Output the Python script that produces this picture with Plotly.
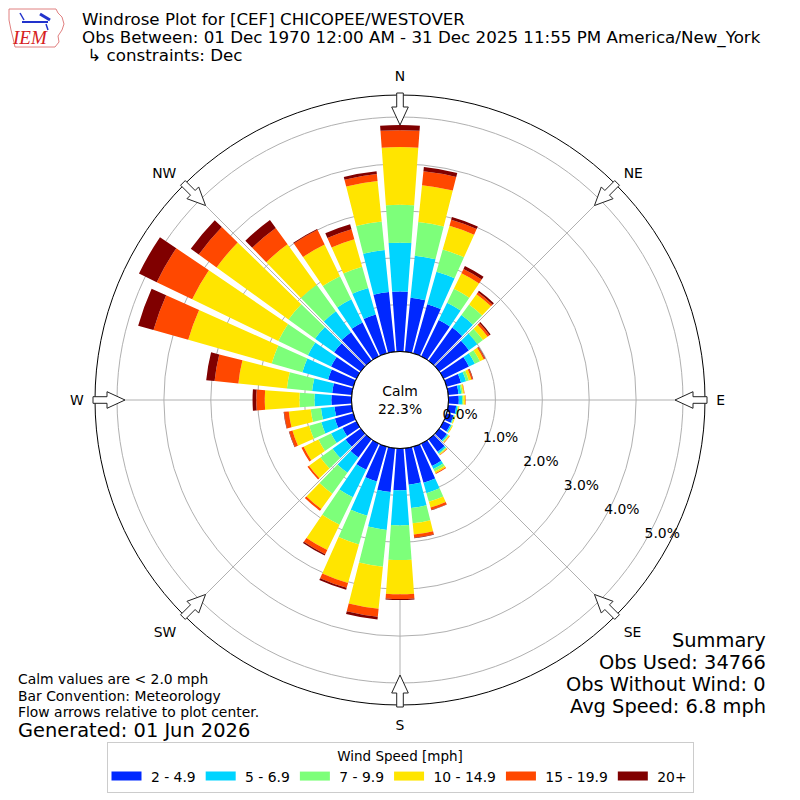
import math
import plotly.graph_objects as go

# wind direction bins (degrees, meteorological convention)
directions = list(range(0, 360, 10))
compass_vals = [0, 45, 90, 135, 180, 225, 270, 315]
compass_text = ["N", "NE", "E", "SE", "S", "SW", "W", "NW"]

speed_labels = ["2 - 4.9", "5 - 6.9", "7 - 9.9", "10 - 14.9", "15 - 19.9", "20+"]
speed_colors = ["#0028ff", "#00d4ff", "#7dff7a", "#ffe500", "#ff4800", "#800000"]

# percent of observations for each speed bin, per direction (0..350 by 10)
pct_2_5 = [1.28, 1.16, 1.09, 0.86, 0.87, 0.78, 0.60, 0.32, 0.22, 0.22, 0.17, 0.15,
           0.16, 0.20, 0.33, 0.53, 0.80, 0.78, 0.89, 0.94, 0.77, 0.62, 0.48, 0.40,
           0.33, 0.41, 0.37, 0.43, 0.42, 0.56, 0.60, 0.70, 0.75, 0.80, 0.86, 1.28]
pct_5_7 = [1.04, 0.90, 0.72, 0.41, 0.33, 0.22, 0.14, 0.11, 0.06, 0.07, 0.03, 0.02,
           0.03, 0.03, 0.04, 0.07, 0.23, 0.50, 0.75, 0.81, 0.76, 0.65, 0.40, 0.34,
           0.27, 0.30, 0.29, 0.36, 0.43, 0.57, 0.55, 0.50, 0.55, 0.55, 0.59, 0.90]
pct_7_10 = [0.81, 0.72, 0.49, 0.33, 0.28, 0.15, 0.12, 0.06, 0.03, 0.03, 0.02, 0.01,
            0.01, 0.02, 0.02, 0.06, 0.19, 0.33, 0.74, 0.79, 0.64, 0.65, 0.55, 0.32,
            0.30, 0.27, 0.22, 0.32, 0.54, 0.68, 0.70, 0.70, 0.70, 0.55, 0.47, 0.61]
pct_10_15 = [1.23, 0.79, 0.53, 0.37, 0.27, 0.12, 0.09, 0.06, 0.03, 0.04, 0.02, 0.02,
             0.02, 0.02, 0.02, 0.04, 0.13, 0.24, 0.73, 0.90, 0.85, 0.60, 0.40, 0.30,
             0.35, 0.37, 0.47, 0.74, 1.04, 1.85, 2.04, 1.89, 1.06, 0.75, 0.61, 0.87]
pct_15_20 = [0.36, 0.30, 0.13, 0.10, 0.05, 0.05, 0.03, 0.03, 0.01, 0.01, 0.00, 0.00,
             0.00, 0.01, 0.01, 0.02, 0.05, 0.07, 0.10, 0.17, 0.11, 0.10, 0.05, 0.04,
             0.05, 0.07, 0.10, 0.18, 0.51, 0.77, 0.84, 0.47, 0.43, 0.35, 0.22, 0.15]
pct_20_up = [0.11, 0.09, 0.06, 0.07, 0.04, 0.03, 0.01, 0.01, 0.00, 0.00, 0.00, 0.00,
             0.00, 0.00, 0.00, 0.00, 0.01, 0.01, 0.02, 0.06, 0.04, 0.03, 0.00, 0.00,
             0.00, 0.01, 0.01, 0.08, 0.18, 0.34, 0.42, 0.21, 0.21, 0.02, 0.11, 0.06]

speed_data = [pct_2_5, pct_5_7, pct_7_10, pct_10_15, pct_15_20, pct_20_up]
calm_pct = 22.3
radial_ticks = [0, 1, 2, 3, 4, 5]

FONT = "DejaVu Sans"
W = H = 800
OFF = 8  # the page body adds an 8px margin, so lay things out 8px up/left
CX, CY = 400, 400          # centre of the rose (page px)
R_OUT, R_HOLE = 305, 48.5  # outer and calm-circle radius (px)
PX_PER_PCT = 46.9


def paper(x, y):
    """page pixel -> paper coordinates"""
    return (x - OFF) / W, 1 - (y - OFF) / H


fig = go.Figure()
for label, color, vals in zip(speed_labels, speed_colors, speed_data):
    fig.add_trace(go.Barpolar(
        r=vals, theta=directions, width=8.3, name=label, legendgroup=label,
        marker=dict(color=color, line=dict(width=0)), showlegend=False,
    ))
# legend entries drawn as wide flat swatches
for label, color in zip(speed_labels, speed_colors):
    fig.add_trace(go.Scatterpolar(
        r=[None], theta=[None], mode="lines", name="\u00a0" + label, legendgroup=label,
        line=dict(color=color, width=9), hoverinfo="skip",
    ))

# calm circle outline
fig.add_trace(go.Scatterpolar(
    r=[0] * 73, theta=list(range(0, 365, 5)), mode="lines",
    line=dict(color="black", width=1), showlegend=False, hoverinfo="skip",
))

# radial tick labels, placed along a ray below E like matplotlib does
phi = math.radians(30.5)
lab_r, lab_t = [], []
for v in radial_ticks:
    s = R_HOLE + PX_PER_PCT * v + 11
    px = s * math.cos(phi) + 17.5 * math.sin(phi)
    py = s * math.sin(phi) - 17.5 * math.cos(phi)
    lab_r.append((math.hypot(px, py) - R_HOLE) / PX_PER_PCT)
    lab_t.append(math.degrees(math.atan2(px, -py)))
fig.add_trace(go.Scatterpolar(
    r=lab_r, theta=lab_t, mode="text", text=[f"{v:.1f}%" for v in radial_ticks],
    textfont=dict(family=FONT, size=13.9, color="black"),
    showlegend=False, hoverinfo="skip", cliponaxis=False,
))

# hollow flow arrows at the compass points, pointing to the centre
shapes = []
for a in compass_vals:
    t = math.radians(a)
    ux, uy = math.sin(t), -math.cos(t)
    nx, ny = -uy, ux
    outline = [(R_OUT + 2, -3.3), (R_OUT - 12, -3.3), (R_OUT - 12, -8.3), (R_OUT - 30, 0),
               (R_OUT - 12, 8.3), (R_OUT - 12, 3.3), (R_OUT + 2, 3.3)]
    pts = []
    for rr, ww in outline:
        px, py = paper(CX + rr * ux + ww * nx, CY + rr * uy + ww * ny)
        pts.append(f"{px:.5f},{py:.5f}")
    shapes.append(dict(type="path", xref="paper", yref="paper",
                       path="M " + " L ".join(pts) + " Z",
                       fillcolor="white", line=dict(color="#222222", width=1)))

# rough IEM logo: state outline plus a little blue sketch
iowa = [(9, 9), (56, 9), (58, 13), (62, 17), (64, 24), (62, 30), (58, 36), (59, 42),
        (55, 47), (15, 47), (13, 38), (11, 30), (9, 20)]
shapes.append(dict(type="path", xref="paper", yref="paper",
                   path="M " + " L ".join("%.5f,%.5f" % paper(x, y) for x, y in iowa) + " Z",
                   line=dict(color="#e08080", width=1)))
for (xa, ya), (xb, yb), lw in [((22, 22), (48, 22), 2), ((40, 14), (50, 20), 3),
                               ((20, 13), (24, 20), 1.5), ((46, 24), (48, 30), 1.5)]:
    x0, y0 = paper(xa, ya)
    x1, y1 = paper(xb, yb)
    shapes.append(dict(type="line", xref="paper", yref="paper", x0=x0, x1=x1, y0=y0, y1=y1,
                       line=dict(color="#2233cc", width=lw)))


def note(text, x, y, size, xanchor="left", **font):
    px, py = paper(x, y)
    return dict(text=text, x=px, y=py, xref="paper", yref="paper", xanchor=xanchor,
                yanchor="middle", showarrow=False,
                font=dict(family=font.get("family", FONT), size=size,
                          color=font.get("color", "black")))


annotations = [
    note("<i>IEM</i>", 30, 38, 19, xanchor="center", family="Liberation Serif", color="#d62020"),
    note("Windrose Plot for [CEF] CHICOPEE/WESTOVER", 80, 19, 16.7),
    note("Obs Between: 01 Dec 1970 12:00 AM - 31 Dec 2025 11:55 PM America/New_York", 80, 38, 16.7),
    note(" \u21b3 constraints: Dec", 80, 55, 16.7),
    note(f"Calm<br>{calm_pct:.1f}%", CX, CY, 13.9, xanchor="center"),
    note("Calm values are < 2.0 mph", 16, 679, 13.9),
    note("Bar Convention: Meteorology", 16, 696, 13.9),
    note("Flow arrows relative to plot center.", 16, 712, 13.9),
    note("Generated: 01 Jun 2026", 16, 730, 19.4),
]
summary = ["Summary", "Obs Used: 34766", "Obs Without Wind: 0", "Avg Speed: 6.8 mph"]
for i, line in enumerate(summary):
    annotations.append(note(line, 768, 640 + 22 * i, 19.4, xanchor="right"))

r_max = (R_OUT - R_HOLE) / PX_PER_PCT
dx0, dy1 = paper(CX - R_OUT, CY - R_OUT)
dx1, dy0 = paper(CX + R_OUT, CY + R_OUT)
leg_x, leg_y = paper(CX, 742)
fig.update_layout(
    width=W, height=H,
    margin=dict(l=0, r=0, t=0, b=0),
    paper_bgcolor="white",
    font=dict(family=FONT, color="black"),
    polar=dict(
        domain=dict(x=[dx0, dx1], y=[dy0, dy1]),
        hole=R_HOLE / R_OUT,
        bgcolor="white",
        barmode="stack",
        radialaxis=dict(
            range=[0, r_max], tickvals=radial_ticks, showticklabels=False,
            showline=False, ticks="", gridcolor="#b0b0b0", gridwidth=1,
            layer="above traces",
        ),
        angularaxis=dict(
            direction="clockwise", rotation=90,
            tickmode="array", tickvals=compass_vals, ticktext=compass_text,
            showline=True, linecolor="black", linewidth=1,
            gridcolor="#b0b0b0", gridwidth=1, layer="above traces",
            ticks="outside", ticklen=8, tickcolor="rgba(0,0,0,0)",
            tickfont=dict(family=FONT, size=13.9),
        ),
    ),
    legend=dict(
        orientation="h", x=leg_x, xanchor="center", y=leg_y, yanchor="top",
        bordercolor="#cccccc", borderwidth=1, itemwidth=30,
        title=dict(text="Wind Speed [mph]", side="top center", font=dict(family=FONT, size=13.5)),
        font=dict(family=FONT, size=13.9),
    ),
    shapes=shapes,
    annotations=annotations,
)

fig.write_html("out.html")
